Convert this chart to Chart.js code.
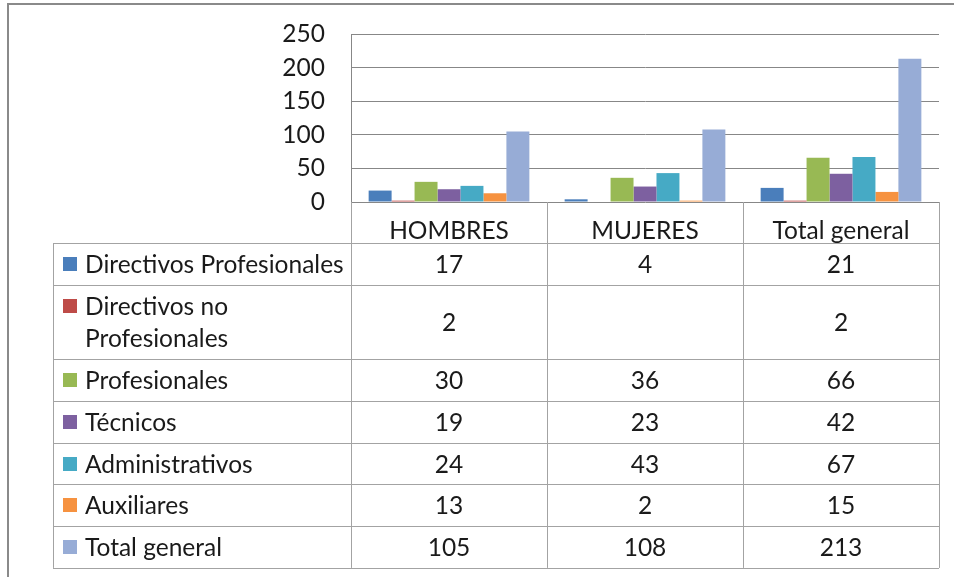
<!DOCTYPE html>
<html>
<head>
<meta charset="utf-8">
<script src="https://cdn.jsdelivr.net/npm/chart.js@4.4.1/dist/chart.umd.min.js"></script>
<style>
  html, body { margin: 0; padding: 0; background: #fff; }
  #wrap { position: relative; width: 954px; height: 577px; }
</style>
</head>
<body>
<div id="wrap"><canvas id="chart" width="954" height="577"></canvas></div>
<script>
// Data
const categories = ['HOMBRES', 'MUJERES', 'Total general'];
const seriesNames = ['Directivos Profesionales', 'Directivos no Profesionales', 'Profesionales',
    'Técnicos', 'Administrativos', 'Auxiliares', 'Total general'];
const directivosProf = [17, 4, 21];
const directivosNoProf = [2, null, 2];
const profesionales = [30, 36, 66];
const tecnicos = [19, 23, 42];
const administrativos = [24, 43, 67];
const auxiliares = [13, 2, 15];
const totalGeneral = [105, 108, 213];
const yTicks = [0, 50, 100, 150, 200, 250];

const seriesColors = ['#4a7ebb', '#be4b48', '#98b954', '#7d60a0', '#46aac5', '#f69240', '#97acd6'];
const FONT_FAMILY = 'Lato, "Open Sans", sans-serif';
const FONT_SIZE = 24.5;
const TEXT_COLOR = '#1a1a1a';
const LINE_COLOR = '#a3a3a3';

const seriesValues = [directivosProf, directivosNoProf, profesionales, tecnicos,
    administrativos, auxiliares, totalGeneral];

// wrap a label into lines that fit maxWidth
function wrapText(ctx, text, maxWidth) {
    const words = text.split(' ');
    const lines = [];
    let line = '';
    words.forEach(w => {
        const test = line ? line + ' ' + w : w;
        if (ctx.measureText(test).width > maxWidth && line) {
            lines.push(line);
            line = w;
        } else {
            line = test;
        }
    });
    lines.push(line);
    return lines;
}

const px = v => Math.round(v) + 0.5;

// Data table under the plot + outer frame
const tablePlugin = {
    id: 'dataTable',
    afterDraw(chart) {
        const ctx = chart.ctx;
        const area = chart.chartArea;
        const xs = chart.scales.x;
        const left = 53;
        const headerBottom = area.bottom + 41;

        const edges = [area.left];
        for (let i = 1; i < categories.length; i++) {
            edges.push((xs.getPixelForValue(i - 1) + xs.getPixelForValue(i)) / 2);
        }
        edges.push(area.right);

        ctx.save();
        ctx.font = FONT_SIZE + 'px ' + FONT_FAMILY;

        // row layout
        const rows = [];
        let y = headerBottom;
        chart.data.datasets.forEach(ds => {
            const lines = wrapText(ctx, ds.label, edges[0] - left - 30);
            const h = 8.7 + 33 * lines.length;
            rows.push({ y: y, h: h, lines: lines });
            y += h;
        });
        const tableBottom = y;

        // grid lines
        ctx.strokeStyle = LINE_COLOR;
        ctx.lineWidth = 1;
        ctx.beginPath();
        ctx.moveTo(left, px(headerBottom));
        ctx.lineTo(area.right, px(headerBottom));
        rows.forEach(r => {
            ctx.moveTo(left, px(r.y + r.h));
            ctx.lineTo(area.right, px(r.y + r.h));
        });
        ctx.moveTo(px(left), headerBottom);
        ctx.lineTo(px(left), tableBottom);
        edges.forEach(e => {
            ctx.moveTo(px(e), area.bottom);
            ctx.lineTo(px(e), tableBottom);
        });
        ctx.stroke();

        // texts
        ctx.fillStyle = TEXT_COLOR;
        ctx.textBaseline = 'middle';
        rows.forEach((r, i) => {
            const ds = chart.data.datasets[i];
            const n = r.lines.length;
            const firstMid = r.y + r.h / 2 - (n - 1) * 16;
            ctx.fillStyle = ds.backgroundColor;
            ctx.fillRect(63, Math.round(firstMid - 7), 14, 14);
            ctx.fillStyle = TEXT_COLOR;
            ctx.textAlign = 'left';
            r.lines.forEach((ln, k) => ctx.fillText(ln, 85, firstMid + k * 32 + 1));
            ctx.textAlign = 'center';
            ds.data.forEach((v, j) => {
                if (v === null || v === undefined) return;
                ctx.fillText(String(v), xs.getPixelForValue(j), r.y + r.h / 2 + 1);
            });
        });

        // outer frame
        ctx.strokeStyle = '#8a8a8a';
        ctx.lineWidth = 2;
        ctx.beginPath();
        ctx.moveTo(954, 4);
        ctx.lineTo(8, 4);
        ctx.lineTo(8, 577);
        ctx.stroke();
        ctx.restore();
    }
};

const ctx = document.getElementById('chart').getContext('2d');
new Chart(ctx, {
    type: 'bar',
    data: {
        labels: categories,
        datasets: seriesNames.map((name, i) => ({
            label: name,
            data: seriesValues[i],
            backgroundColor: seriesColors[i],
            borderWidth: 0,
            categoryPercentage: 0.82,
            barPercentage: 1
        }))
    },
    options: {
        responsive: false,
        animation: false,
        layout: { padding: { left: 271, right: 15, top: 34, bottom: 334 } },
        plugins: {
            legend: { display: false },
            tooltip: { enabled: false }
        },
        scales: {
            x: {
                grid: { display: false },
                border: { display: false },
                ticks: {
                    color: TEXT_COLOR,
                    font: { family: FONT_FAMILY, size: FONT_SIZE },
                    padding: 6,
                    maxRotation: 0
                },
                afterFit: s => { s.height = 41; }
            },
            y: {
                min: 0,
                max: 250,
                afterBuildTicks: s => { s.ticks = yTicks.map(v => ({ value: v })); },
                grid: { color: '#878787', tickLength: 26, tickColor: 'rgba(0,0,0,0)' },
                border: { color: '#878787' },
                ticks: {
                    color: TEXT_COLOR,
                    font: { family: FONT_FAMILY, size: FONT_SIZE, lineHeight: 1 },
                    padding: 0,
                    autoSkip: false
                },
                afterFit: s => { s.width = 80; }
            }
        }
    },
    plugins: [tablePlugin]
});
</script>
</body>
</html>
